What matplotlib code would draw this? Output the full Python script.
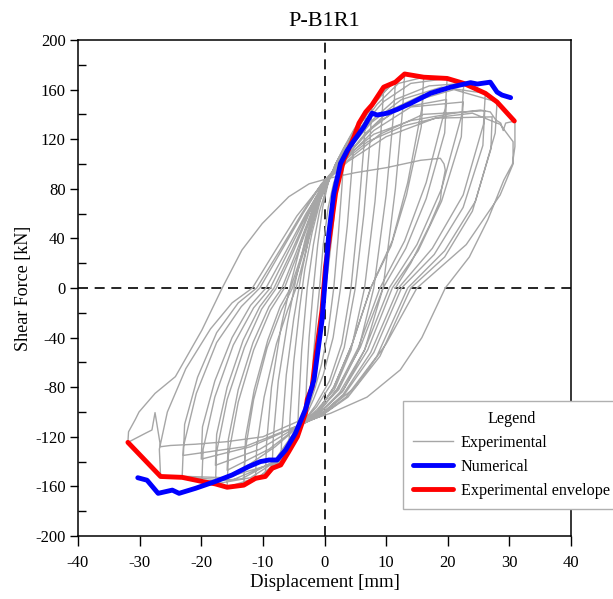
import numpy as np
import matplotlib.pyplot as plt

plt.rcParams['font.family'] = ['Liberation Serif', 'DejaVu Serif']
plt.rcParams['axes.unicode_minus'] = False

# Experimental hysteresis, one list of (disp, force) per half cycle
exp_branches = [
    [(0, 0), (0.4, 25), (0.8, 45)],
    [(0.6, 25), (0.2, 0), (-0.3, -25), (-0.8, -45)],
    [(-0.6, -25), (-0.2, 0), (0.5, 35), (1.2, 60), (1.8, 76)],
    [(1.5, 55), (0.7, 20), (0.2, 0), (-0.6, -30), (-1.3, -55), (-2.0, -80)],
    [(-1.8, -55), (-1.3, -25), (-0.8, 0), (-0.2, 35), (0.6, 65), (1.5, 85), (2.3, 95), (3.1, 103)],
    [(2.8, 80), (2.2, 40), (1.5, 0), (0.6, -35), (-0.5, -62), (-1.5, -80), (-2.3, -92), (-3.1, -101)],
    [(-2.9, -75), (-2.5, -40), (-1.8, 0), (-1.1, 35), (-0.3, 65), (0.6, 85), (1.8, 100), (3.0, 110), (4.8, 122)],
    [(4.5, 100), (3.7, 50), (2.6, 0), (1.4, -40), (-0.2, -70), (-1.8, -90), (-3.0, -103), (-4.4, -120)],
    [(-4.2, -95), (-3.7, -50), (-2.8, 0), (-1.8, 35), (-0.8, 62), (0.4, 82), (1.6, 98), (3.0, 112), (4.8, 128), (6.7, 142)],
    [(6.4, 115), (5.5, 60), (4.3, 0), (2.8, -45), (0.8, -75), (-1.5, -95), (-3.0, -105), (-4.4, -118), (-5.8, -132)],
    [(-5.6, -105), (-5.0, -60), (-4.0, -15), (-3.2, 15), (-2.0, 45), (-0.6, 72), (0.8, 88), (2.2, 103), (3.6, 116), (5.5, 133), (7.7, 148)],
    [(7.4, 120), (6.4, 60), (5.0, 0), (3.2, -48), (1.0, -78), (-1.3, -96), (-3.5, -108), (-5.0, -125), (-7.1, -143)],
    [(-6.9, -115), (-6.2, -70), (-5.0, -25), (-3.8, 10), (-2.5, 42), (-1.0, 68), (0.6, 86), (2.2, 104), (4.0, 120), (6.0, 136), (7.8, 149), (9.6, 162)],
    [(9.3, 135), (8.2, 70), (6.5, 0), (4.3, -50), (1.6, -82), (-1.2, -98), (-3.8, -110), (-5.5, -128), (-7.0, -140), (-8.5, -145)],
    [(-8.3, -120), (-7.5, -75), (-6.0, -28), (-4.6, 8), (-3.0, 42), (-1.3, 68), (0.5, 86), (2.4, 104), (4.5, 122), (7.0, 142), (9.5, 158), (11.5, 166)],
    [(11.2, 140), (10.0, 75), (8.0, 0), (5.5, -50), (2.3, -82), (-1.0, -99), (-3.8, -110), (-5.5, -128), (-7.5, -143), (-9.6, -152)],
    [(-9.4, -125), (-8.6, -80), (-7.0, -30), (-5.4, 5), (-3.6, 40), (-1.6, 67), (0.4, 86), (2.6, 106), (5.0, 126), (8.0, 148), (10.6, 163), (13.0, 172.6)],
    [(12.7, 145), (11.5, 80), (9.5, 0), (6.5, -50), (3.0, -83), (-0.8, -100), (-3.8, -111), (-5.8, -130), (-8.5, -146), (-11.2, -153.5)],
    [(-11.0, -128), (-9.8, -88), (-7.8, -45), (-6.0, -18), (-4.6, 0), (-3.0, 30), (-1.5, 60), (0.2, 85), (2.8, 106), (5.5, 127), (8.5, 148), (12.0, 165), (16.1, 170)],
    [(15.8, 145), (13.5, 85), (11.0, 38), (7.5, 0), (4.5, -45), (1.5, -80), (-1.0, -99), (-3.8, -110), (-6.0, -132), (-9.0, -150), (-13.1, -159)],
    [(-12.9, -132), (-11.5, -90), (-9.3, -48), (-7.0, -18), (-5.2, 0), (-3.3, 30), (-1.6, 58), (0, 84), (3.0, 103), (6.5, 124), (10.5, 143), (16.0, 156)],
    [(15.7, 130), (13.3, 75), (10.8, 34), (7.5, 0), (4.5, -45), (1.5, -80), (-1.0, -99), (-3.8, -110), (-8.0, -128), (-13.0, -145)],
    [(-12.8, -120), (-11.4, -82), (-9.2, -42), (-7.2, -15), (-5.5, 0), (-3.5, 30), (-1.7, 60), (0.3, 85), (3.0, 107), (6.0, 130), (9.5, 150), (14.0, 165), (19.9, 169)],
    [(19.6, 145), (16.5, 85), (13.0, 38), (9.0, 0), (5.5, -48), (2.0, -82), (-1.0, -100), (-3.8, -110), (-6.5, -135), (-10.5, -152), (-15.8, -160.7)],
    [(-15.6, -135), (-14.0, -92), (-11.5, -50), (-8.8, -18), (-6.5, 0), (-4.2, 30), (-2.0, 60), (-0.2, 82), (3.0, 103), (7.0, 126), (12.0, 145), (19.8, 152)],
    [(19.5, 125), (16.5, 72), (13.2, 32), (9.5, 0), (5.8, -48), (2.0, -82), (-1.0, -100), (-3.8, -110), (-9.0, -130), (-15.8, -147)],
    [(-15.6, -122), (-14.0, -82), (-11.6, -44), (-9.0, -15), (-6.9, 0), (-4.5, 30), (-2.2, 60), (0.2, 85), (3.2, 108), (7.0, 132), (11.5, 152), (17.0, 163), (22.6, 165)],
    [(22.3, 140), (19.0, 80), (15.0, 35), (10.5, 0), (6.5, -50), (2.5, -84), (-0.8, -101), (-3.8, -110), (-7.0, -137), (-12.0, -153), (-17.7, -158)],
    [(-17.5, -132), (-15.8, -90), (-13.0, -48), (-10.2, -17), (-7.8, 0), (-5.0, 30), (-2.5, 60), (-0.3, 82), (3.2, 103), (8.0, 127), (14.0, 146), (22.5, 150)],
    [(22.2, 122), (19.0, 70), (15.2, 30), (11.0, 0), (7.0, -50), (2.8, -84), (-0.8, -101), (-3.8, -110), (-10.5, -130), (-17.7, -143)],
    [(-17.5, -118), (-15.8, -80), (-13.2, -42), (-10.5, -15), (-8.2, 0), (-5.3, 30), (-2.6, 60), (0.2, 85), (3.5, 109), (7.5, 133), (12.5, 152), (19.0, 162), (26.1, 157)],
    [(25.8, 132), (22.5, 75), (17.5, 32), (12.0, 0), (7.5, -52), (3.0, -86), (-0.6, -102), (-3.8, -110), (-7.5, -138), (-13.5, -154), (-19.9, -156)],
    [(-19.7, -130), (-17.8, -88), (-14.8, -46), (-11.5, -16), (-8.8, 0), (-5.8, 30), (-2.8, 60), (-0.5, 82), (3.5, 102), (9.0, 124), (16.0, 140), (26.0, 143)],
    [(25.7, 115), (22.5, 65), (17.8, 27), (12.5, 0), (8.0, -52), (3.2, -86), (-0.6, -102), (-3.8, -110), (-12.0, -128), (-20.0, -138)],
    [(-19.8, -112), (-17.8, -75), (-15.0, -40), (-12.0, -14), (-9.5, 0), (-6.2, 30), (-3.0, 60), (0, 84), (3.8, 108), (8.5, 133), (14.0, 150), (21.0, 160), (28.0, 150)],
    [(27.7, 125), (24.5, 70), (19.5, 30), (13.5, 0), (8.5, -55), (3.5, -88), (-0.5, -103), (-3.8, -110), (-8.0, -140), (-15.0, -155), (-23.1, -152.7)],
    [(-22.9, -128), (-20.8, -85), (-17.5, -44), (-13.5, -15), (-10.5, 0), (-7.0, 30), (-3.5, 60), (-0.7, 82), (3.8, 102), (10.0, 122), (18.0, 137), (27.2, 138)],
    [(27.0, 112), (24.0, 62), (19.5, 25), (14.0, 0), (9.0, -55), (3.8, -88), (-0.5, -103), (-3.8, -110), (-13.0, -128), (-22.9, -135)],
    [(-22.7, -110), (-20.6, -72), (-17.5, -36), (-14.0, -12), (-11.0, 0), (-7.3, 30), (-3.7, 60), (-0.5, 84), (3.5, 106), (8.0, 124),
     (14.0, 135), (21.0, 141), (25.3, 143.5), (26.9, 142), (27.8, 135.5), (28.6, 133), (29.0, 127), (29.4, 133), (30.9, 134.7)],
    [(30.9, 114), (30.5, 100), (29.1, 87), (26.5, 55), (23.5, 25), (19.6, 0), (15.8, -40), (12.3, -66), (6.9, -88),
     (1.0, -101), (-3.9, -109), (-8.5, -142), (-16.0, -153), (-22.0, -152), (-26.6, -152)],
    [(-26.8, -130), (-25.5, -100), (-22.5, -65), (-18.5, -33), (-15.0, -12), (-11.7, 0), (-8.0, 30), (-4.5, 58), (-1.0, 80),
     (2.5, 100), (7.0, 118), (13.0, 131), (19.0, 138), (24.0, 141), (28.5, 132), (30.6, 118)],
    [(30.6, 100), (28.5, 75), (23.0, 35), (15.0, 0), (10.0, -45), (5.0, -80), (0, -100), (-3.6, -106),
     (-10.0, -120), (-16.0, -124), (-21.0, -126), (-25.0, -127), (-26.6, -128), (-27.5, -100.5), (-28.0, -114.5),
     (-29.0, -117), (-31.9, -124.5)],
    [(-31.8, -116), (-30.7, -106), (-30.1, -100), (-27.5, -85), (-24.2, -71.5), (-19.9, -34), (-16.6, 0), (-13.4, 30.6),
     (-10.1, 52), (-5.8, 73.6), (-2.5, 84), (0.7, 88.5), (5.0, 93), (10.0, 97), (15.6, 103), (18.8, 104.6),
     (19.4, 100), (19.6, 95)],
    [(19.0, 80), (18.8, 71), (17.0, 50), (14.0, 20), (11.5, 0)],
]
exp_disp = np.array([p[0] for b in exp_branches for p in b])
exp_force = np.array([p[1] for b in exp_branches for p in b])

# Numerical envelope
num_disp = [-30.3, -28.8, -27.0, -24.7, -23.6, -20.9, -17.7, -15.0, -12.3, -10.4, -9.0, -7.7, -6.3, -4.7,
            -3.1, -1.7, -0.4, 0.7, 1.5, 2.6, 3.7, 4.8, 6.4, 7.7, 8.55, 10.2, 11.8, 14.0, 17.2, 20.5,
            23.7, 24.8, 26.9, 28.0, 28.8, 30.2]
num_force = [-153, -155, -165.6, -163, -165.6, -161.5, -156, -150.8, -144, -140, -138.7, -138.7, -130.6, -117,
             -98, -74, -26, 44, 76, 100.5, 111, 119, 130, 141, 139.5, 141, 144, 149, 157, 162,
             165.6, 164.5, 166, 158, 155.6, 153.5]

# Experimental envelope
env_disp = [-31.9, -26.6, -23.1, -19.9, -17.7, -15.8, -13.1, -11.2, -9.6, -8.5, -7.1, -5.8, -4.4, -3.1,
            -2.8, -2.0, -1.5, -0.4, 0.16, 1.8, 3.1, 4.8, 5.6, 6.7, 7.7, 9.6, 10.4, 11.5, 13.0, 16.1,
            19.9, 22.6, 26.1, 28.0, 30.8]
env_force = [-124.5, -152, -152.7, -156, -158, -160.7, -159, -153.5, -152, -145.4, -142.7, -132, -120, -101,
             -90, -79.6, -58, -17.7, 17, 76.5, 103, 122, 133, 142, 147.6, 162, 163.7, 166, 172.6, 170,
             169, 165, 157, 150, 134.7]

x_ticks = [-40, -30, -20, -10, 0, 10, 20, 30, 40]
y_ticks = [-200, -160, -120, -80, -40, 0, 40, 80, 120, 160, 200]

fig = plt.figure(figsize=(6.13, 5.99), dpi=100)
ax = fig.add_axes([78 / 613, 1 - 536 / 599, 493 / 613, 496 / 599])

ax.axhline(0, color='black', lw=1.2, ls=(0, (6, 4)), zorder=1)
ax.axvline(0, color='black', lw=1.2, ls=(0, (6, 4)), zorder=1)

ax.plot(exp_disp, exp_force, color='#a6a6a6', lw=1.0, label='Experimental', zorder=2)
ax.plot(num_disp, num_force, color='#0000ff', lw=3.5, label='Numerical', zorder=4,
        solid_capstyle='round', solid_joinstyle='round')
ax.plot(env_disp, env_force, color='#ff0000', lw=3.5, label='Experimental envelope', zorder=3,
        solid_capstyle='round', solid_joinstyle='round')

ax.set_xlim(-40, 40)
ax.set_ylim(-200, 200)
ax.set_xticks(x_ticks)
ax.set_yticks(y_ticks)
ax.set_yticks(np.arange(-180, 200, 40), minor=True)
ax.tick_params(axis='x', which='major', direction='out', length=7, width=1, labelsize=12, pad=7)
ax.tick_params(axis='y', which='major', direction='out', length=6, width=1, labelsize=12, pad=3)
ax.tick_params(axis='y', which='minor', direction='in', length=6, width=1)
for s in ax.spines.values():
    s.set_linewidth(1.1)

ax.set_title('P-B1R1', fontsize=16, pad=10)
ax.set_xlabel('Displacement [mm]', fontsize=13.5, labelpad=2)
ax.set_ylabel('Shear Force [kN]', fontsize=13, labelpad=2)

leg = ax.legend(loc='upper left', bbox_to_anchor=(0.659, 0.272), borderaxespad=0, title='Legend',
                fontsize=11.6, title_fontsize=11.6, fancybox=False, framealpha=1, edgecolor='#b0b0b0',
                handlelength=2.5, borderpad=0.6, labelspacing=0.5, handletextpad=0.5)
leg.get_frame().set_linewidth(1.0)

fig.savefig('out.png', dpi=100)
